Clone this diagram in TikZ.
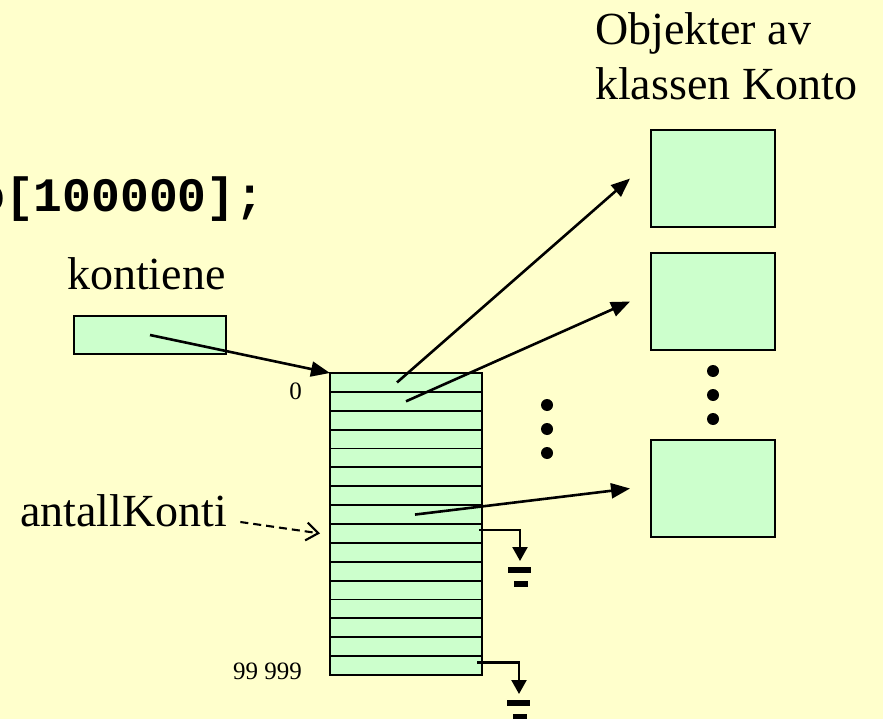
\documentclass[tikz,border=0pt]{standalone}
\usepackage{fontspec}
\setmainfont{Liberation Serif}
\newfontfamily\codefont{Liberation Mono}
\usetikzlibrary{arrows.meta}
\definecolor{bgyellow}{HTML}{FFFFCC}
\definecolor{cellgreen}{HTML}{CCFFCC}
\tikzset{
  cell/.style={draw, fill=cellgreen, line width=1.9pt, minimum width=152pt,
    minimum height=18.875pt, inner sep=0pt, outer sep=0pt},
  objbox/.style={draw, fill=cellgreen, line width=1.9pt, minimum width=124pt,
    minimum height=97pt, inner sep=0pt},
  ptr/.style={line width=2.6pt, -{Triangle[length=19pt,width=15pt]}},
  gnd/.style={line width=2.4pt, -{Triangle[length=14pt,width=15pt]}},
  big/.style={font=\fontsize{46}{55}\selectfont, inner sep=0pt},
  small/.style={font=\fontsize{25}{30}\selectfont, inner sep=0pt},
  code/.style={font=\codefont\bfseries\fontsize{48}{55}\selectfont, inner sep=0pt},
}
\begin{document}
\begin{tikzpicture}[x=1pt, y=-1pt]
    \useasboundingbox (0,0) rectangle (883,719);
    \fill[bgyellow] (0,0) rectangle (883,719);
\node[code, anchor=base west] (decl) at (-24,212) {o[100000];};
\node[big, anchor=base west] (obj1) at (595,45) {Objekter av};
\node[big, anchor=base west] (obj2) at (595,100) {klassen Konto};
\node[big, anchor=base west] (kname) at (67,290) {kontiene};
\node[big, anchor=base west] (ak) at (20,526) {antallKonti};
\node[small, anchor=base east] (first) at (302,399) {0};
\node[small, anchor=base east] (last) at (302,679) {99 999};
    % the array
    \node[cell, minimum height=38pt] (kont) at (150,335) {};
    \foreach \i in {0,...,15}
        \node[cell] (r\i) at (406,{382.44+18.875*\i}) {};
    % the Konto objects
    \node[objbox] (k1) at (713,178.5) {};
    \node[objbox] (k2) at (713,301.5) {};
    \node[objbox] (k3) at (713,488.5) {};
\foreach \y in {405,429,453} \fill (547,\y) circle (6pt);
\foreach \y in {371,395,419} \fill (713,\y) circle (6pt);
    \draw[ptr] (kont.center) -- (r0.north west);
    \draw[ptr] ([xshift=-9pt]r0.center) -- ([xshift=-20pt]k1.west);
    \draw[ptr] (r1.center) -- ([xshift=-20pt]k2.west);
    \draw[ptr] ([xshift=9pt]r7.center) -- ([xshift=-20pt]k3.west);
    \draw[line width=2.1pt, dash pattern=on 8pt off 5pt,
        -{Straight Barb[length=12pt,width=18pt]}]
        ([shift={(13,-4)}]ak.base east) -- ([xshift=-10pt]r8.west);
    % null pointers
    \coordinate (g1) at (520,561);
    \coordinate (g2) at (519,694);
    \draw[gnd] ([xshift=-3pt,yshift=3.4pt]r8.east) -| (g1);
    \draw[gnd] ([xshift=-5pt,yshift=3pt]r15.east) -| (g2);
    \foreach \g in {g1,g2} {
        \fill ([shift={(-12,6)}]\g) rectangle ([shift={(11,12)}]\g);
        \fill ([shift={(-6,20)}]\g) rectangle ([shift={(8,26)}]\g);
    }
    \end{tikzpicture}
\end{document}
